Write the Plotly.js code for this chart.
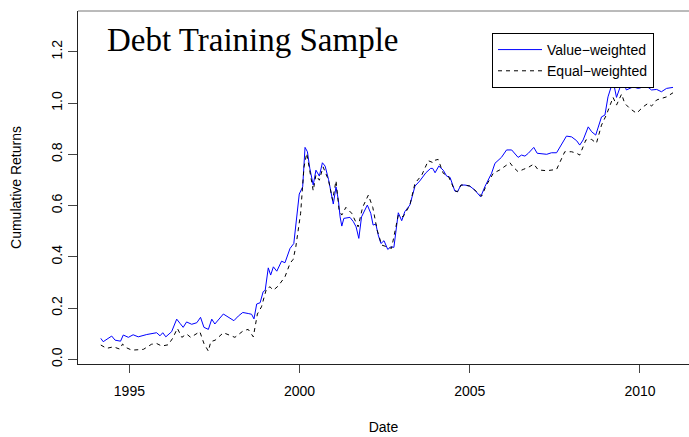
<!DOCTYPE html>
<html><head><meta charset="utf-8">
<script src="https://cdn.plot.ly/plotly-3.0.1.min.js"></script>
<style>html,body{margin:0;padding:0;background:#fff}#c{width:689px;height:437px}</style>
</head><body><div id="c"></div>
<script>
const vwX = [1994.16,1994.23,1994.48,1994.58,1994.74,1994.82,1994.97,1995.11,1995.26,1995.51,1995.80,1995.90,1995.98,1996.07,1996.24,1996.39,1996.49,1996.58,1996.68,1996.83,1996.98,1997.09,1997.19,1997.32,1997.42,1997.51,1997.76,1997.90,1998.07,1998.20,1998.33,1998.49,1998.59,1998.66,1998.74,1998.84,1998.93,1998.99,1999.08,1999.15,1999.23,1999.33,1999.47,1999.57,1999.72,1999.83,1999.99,2000.09,2000.16,2000.23,2000.30,2000.40,2000.48,2000.58,2000.67,2000.75,2000.85,2000.99,2001.07,2001.14,2001.19,2001.24,2001.30,2001.48,2001.58,2001.66,2001.74,2001.82,2001.99,2002.09,2002.16,2002.24,2002.31,2002.39,2002.48,2002.59,2002.68,2002.77,2002.90,2003.00,2003.09,2003.24,2003.39,2003.53,2003.71,2003.85,2003.91,2003.98,2004.09,2004.22,2004.32,2004.42,2004.56,2004.64,2004.74,2004.86,2005.00,2005.15,2005.32,2005.44,2005.64,2005.74,2005.93,2006.08,2006.23,2006.42,2006.52,2006.62,2006.72,2006.88,2006.98,2007.26,2007.40,2007.55,2007.84,2007.99,2008.14,2008.23,2008.33,2008.48,2008.58,2008.70,2008.87,2008.97,2009.06,2009.21,2009.31,2009.49,2009.60,2009.80,2009.95,2010.19,2010.34,2010.49,2010.63,2010.78,2010.97];
const vwY = [0.082,0.069,0.091,0.075,0.071,0.095,0.086,0.096,0.088,0.097,0.104,0.092,0.104,0.088,0.108,0.157,0.140,0.125,0.146,0.137,0.143,0.164,0.125,0.117,0.157,0.138,0.177,0.164,0.151,0.169,0.183,0.179,0.176,0.158,0.216,0.221,0.264,0.270,0.357,0.329,0.361,0.344,0.383,0.377,0.433,0.452,0.645,0.673,0.827,0.810,0.745,0.680,0.738,0.715,0.767,0.754,0.702,0.606,0.673,0.621,0.556,0.520,0.550,0.554,0.537,0.517,0.472,0.556,0.602,0.570,0.524,0.528,0.485,0.452,0.463,0.429,0.439,0.437,0.572,0.541,0.576,0.602,0.676,0.696,0.728,0.745,0.745,0.728,0.754,0.738,0.715,0.710,0.657,0.654,0.680,0.680,0.676,0.660,0.634,0.673,0.726,0.765,0.788,0.817,0.817,0.788,0.797,0.793,0.804,0.827,0.804,0.800,0.806,0.806,0.871,0.868,0.853,0.836,0.856,0.907,0.888,0.875,0.946,0.953,1.024,1.087,1.022,1.090,1.051,1.063,1.057,1.066,1.051,1.053,1.044,1.057,1.061];
const ewX = [1994.16,1994.33,1994.53,1994.72,1994.80,1994.92,1995.07,1995.41,1995.65,1995.80,1995.95,1996.14,1996.27,1996.41,1996.54,1996.68,1996.80,1996.93,1997.07,1997.19,1997.32,1997.39,1997.52,1997.76,1997.91,1998.10,1998.35,1998.49,1998.64,1998.76,1998.88,1999.03,1999.13,1999.23,1999.37,1999.57,1999.72,1999.81,1999.89,2000.03,2000.13,2000.21,2000.40,2000.48,2000.58,2000.69,2000.85,2000.97,2001.07,2001.16,2001.24,2001.36,2001.53,2001.72,2001.85,2002.02,2002.15,2002.28,2002.41,2002.56,2002.70,2002.90,2003.04,2003.24,2003.39,2003.59,2003.78,2003.93,2003.98,2004.07,2004.22,2004.37,2004.56,2004.64,2004.74,2004.86,2005.00,2005.15,2005.35,2005.49,2005.69,2005.88,2006.03,2006.18,2006.27,2006.42,2006.57,2006.72,2006.88,2007.01,2007.26,2007.55,2007.79,2007.99,2008.14,2008.23,2008.41,2008.58,2008.72,2008.87,2009.01,2009.11,2009.21,2009.31,2009.46,2009.55,2009.70,2009.90,2010.09,2010.24,2010.34,2010.49,2010.63,2010.78,2010.97];
const ewY = [0.056,0.043,0.049,0.040,0.060,0.045,0.036,0.039,0.059,0.062,0.052,0.057,0.082,0.121,0.086,0.099,0.086,0.095,0.108,0.062,0.032,0.069,0.075,0.104,0.095,0.086,0.112,0.117,0.088,0.177,0.205,0.277,0.283,0.270,0.286,0.322,0.375,0.390,0.440,0.570,0.751,0.804,0.658,0.719,0.699,0.751,0.699,0.621,0.697,0.582,0.563,0.593,0.570,0.517,0.593,0.641,0.593,0.504,0.446,0.439,0.433,0.563,0.556,0.602,0.687,0.719,0.775,0.767,0.777,0.780,0.726,0.715,0.658,0.654,0.680,0.680,0.676,0.660,0.637,0.680,0.726,0.739,0.754,0.767,0.751,0.732,0.741,0.749,0.762,0.739,0.736,0.741,0.810,0.810,0.804,0.797,0.856,0.858,0.843,0.914,0.953,0.992,1.022,0.992,1.035,0.999,0.979,0.960,0.985,0.999,0.988,1.012,1.018,1.024,1.040];
const xTicks = [1995, 2000, 2005, 2010];
const xTickText = ['1995', '2000', '2005', '2010'];
const yTicks = [0, 0.2, 0.4, 0.6, 0.8, 1.0, 1.2];
const yTickText = ['0.0', '0.2', '0.4', '0.6', '0.8', '1.0', '1.2'];
const seriesNames = ['Value\u2212weighted', 'Equal\u2212weighted'];
const chartTitle = 'Debt Training Sample';
const xTitle = 'Date';
const yTitle = 'Cumulative Returns';

const font = 'Liberation Sans, Arial, sans-serif';
const traces = [
  {x: vwX, y: vwY, type: 'scatter', mode: 'lines', name: seriesNames[0],
   line: {color: '#0000ff', width: 1}},
  {x: ewX, y: ewY, type: 'scatter', mode: 'lines', name: seriesNames[1],
   line: {color: '#000000', width: 1, dash: '4px,4px'}}
];
const layout = {
  width: 689, height: 437,
  margin: {l: 78, r: 0, t: 11, b: 73, pad: 0},
  paper_bgcolor: '#fff', plot_bgcolor: '#fff',
  font: {family: font, size: 14, color: '#000'},
  showlegend: true,
  legend: {x: 0.6776, y: 0.9377, xanchor: 'left', yanchor: 'top',
    bordercolor: '#000', borderwidth: 1, bgcolor: '#fff',
    font: {family: font, size: 14, color: '#000'}, itemwidth: 44,
    tracegroupgap: 0},
  xaxis: {range: [1993.49, 2011.44], tickvals: xTicks, ticktext: xTickText,
    ticks: 'outside', ticklen: 8, tickcolor: '#444', tickwidth: 1,
    showline: true, linecolor: '#222', linewidth: 1, showgrid: false, zeroline: false,
    ticklabelstandoff: 6,
    title: {text: xTitle, font: {family: font, size: 14}, standoff: 24}},
  yaxis: {range: [-0.018, 1.359], tickvals: yTicks, ticktext: yTickText,
    ticks: 'outside', ticklen: 9, tickcolor: '#444', tickwidth: 1, tickangle: -90,
    showline: true, linecolor: '#222', linewidth: 1, showgrid: false, zeroline: false,
    ticklabelstandoff: 0,
    title: {text: yTitle, font: {family: font, size: 14}, standoff: 24}},
  shapes: [{type: 'line', xref: 'paper', yref: 'paper', x0: 0, x1: 1, y0: 1, y1: 1,
    line: {color: '#777', width: 1}}],
  annotations: [{text: chartTitle, xref: 'paper', yref: 'paper', x: 0.0442, y: 0.9178,
    xanchor: 'left', yanchor: 'middle', showarrow: false,
    font: {family: 'Liberation Serif, Times New Roman, serif', size: 33, color: '#000'}}]
};
Plotly.newPlot('c', traces, layout, {staticPlot: true, displayModeBar: false});
</script></body></html>
